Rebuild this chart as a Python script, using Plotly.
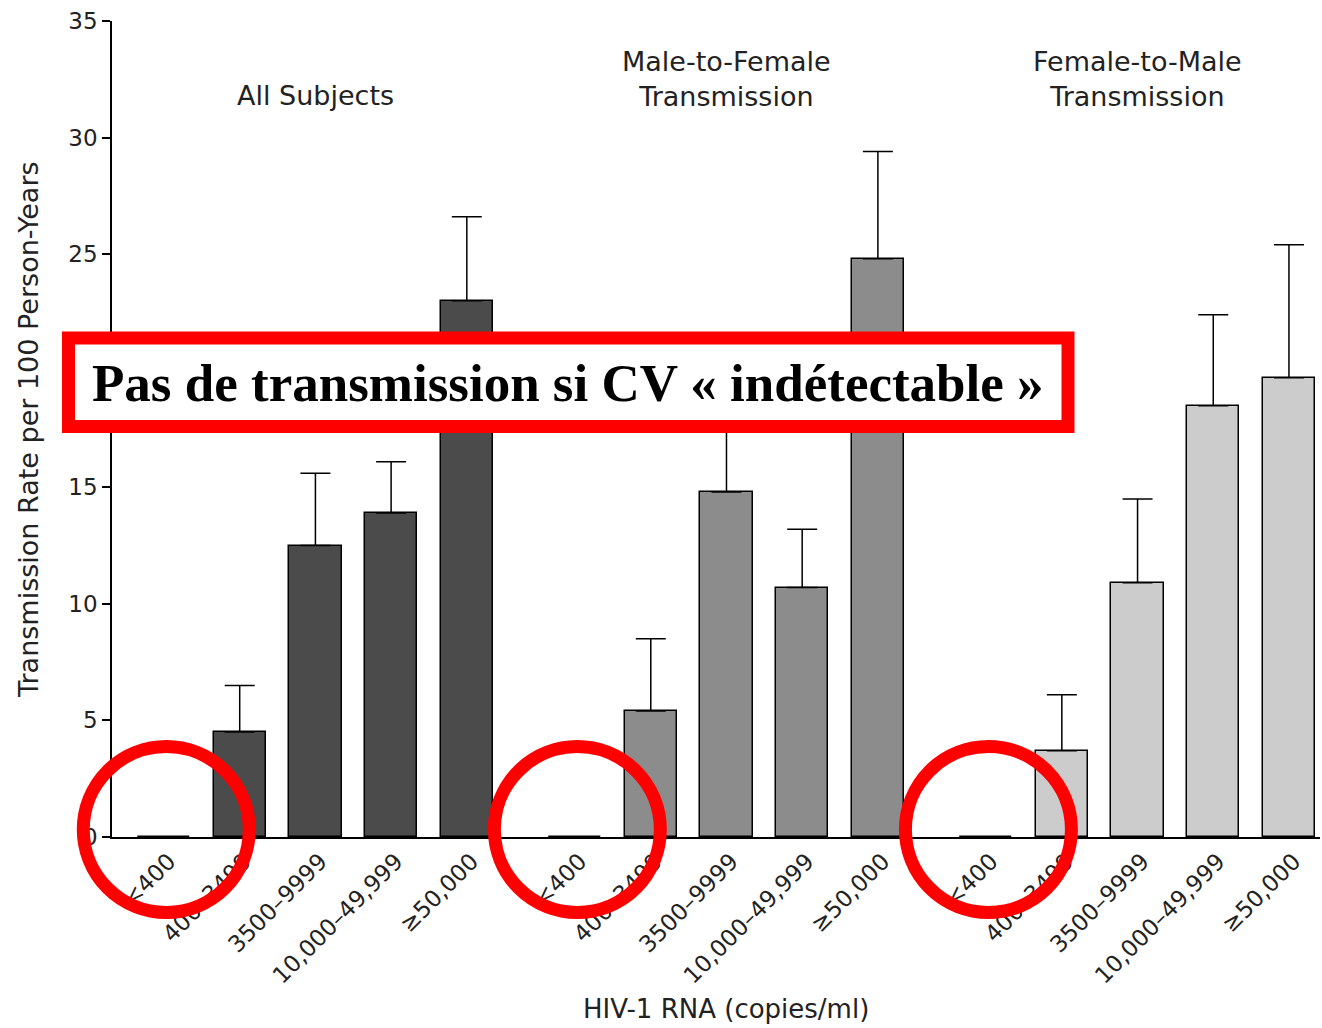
import plotly.graph_objects as go

categories = ["<400", "400–3499", "3500–9999", "10,000–49,999", "≥50,000"]
groups = ["All Subjects", "Male-to-Female<br>Transmission", "Female-to-Male<br>Transmission"]
rate_all = [0, 4.5, 12.5, 13.9, 23.0]
err_all = [0, 2.0, 3.1, 2.2, 3.6]
rate_mf = [0, 5.4, 14.8, 10.7, 24.8]
err_mf = [0, 3.1, 4.5, 2.5, 4.6]
rate_fm = [0, 3.7, 10.9, 18.5, 19.7]
err_fm = [0, 2.4, 3.6, 3.9, 5.7]
colors = ["#4b4b4b", "#8c8c8c", "#cccccc"]
banner = "Pas de transmission si CV « indétectable »"

group_step = 5.43
xmin, xmax = -0.687, 15.27
series = [(rate_all, err_all), (rate_mf, err_mf), (rate_fm, err_fm)]


def to_paper(xd):
    return (xd - xmin) / (xmax - xmin)


fig = go.Figure()
tickvals, ticktext = [], []
for g, (vals, errs) in enumerate(series):
    xs = [g * group_step + i for i in range(len(categories))]
    tickvals += xs
    ticktext += categories
    fig.add_trace(go.Bar(
        x=xs, y=vals, width=0.69,
        marker=dict(color=colors[g], line=dict(color="black", width=1.5)),
        error_y=dict(type="data", symmetric=False, array=errs,
                     arrayminus=[0] * len(errs), color="black",
                     thickness=1.5, width=15),
        showlegend=False,
    ))
    fig.add_annotation(x=g * group_step + 2, y=31.8 if g == 0 else 32.5,
                       xref="x", yref="y", text=groups[g], showarrow=False,
                       font=dict(family="DejaVu Sans", size=27, color="#222"))
    # red circle around the "<400" bar
    cx = to_paper(g * group_step + 0.03)
    cy = (837 - 829.5) / 816
    rx, ry = 83 / 1208, 83 / 816
    fig.add_shape(type="circle", xref="paper", yref="paper",
                  x0=cx - rx, x1=cx + rx, y0=cy - ry, y1=cy + ry,
                  line=dict(color="#ff0000", width=13), layer="above")

fig.add_shape(type="rect", xref="paper", yref="paper",
              x0=(68.5 - 112) / 1208, x1=(1068 - 112) / 1208,
              y0=(837 - 426.5) / 816, y1=(837 - 338) / 816,
              fillcolor="white", line=dict(color="#ff0000", width=13), layer="above")
fig.add_annotation(x=(568 - 112) / 1208, y=(837 - 383) / 816, xref="paper", yref="paper",
                   text="<b>" + banner + "</b>", showarrow=False,
                   font=dict(family="Liberation Serif", size=53, color="black"))

fig.add_annotation(x=(726 - 112) / 1208, y=-(1009 - 837) / 816, xref="paper", yref="paper",
                   text="HIV-1 RNA (copies/ml)", showarrow=False, yanchor="middle",
                   font=dict(family="DejaVu Sans", size=26, color="#222"))
fig.add_annotation(x=(28 - 112) / 1208, y=(837 - 430) / 816, xref="paper", yref="paper",
                   text="Transmission Rate per 100 Person-Years", showarrow=False,
                   textangle=-90, xanchor="center", yanchor="middle",
                   font=dict(family="DejaVu Sans", size=27, color="#222"))

fig.update_layout(
    width=1322, height=1028,
    margin=dict(l=112, r=2, t=21, b=191),
    plot_bgcolor="white", paper_bgcolor="white",
    bargap=0,
    font=dict(family="DejaVu Sans", size=22, color="#222"),
)
fig.update_xaxes(range=[xmin, xmax], tickvals=tickvals, ticktext=ticktext,
                 tickangle=-45, showline=True, linecolor="black", linewidth=1.5,
                 showgrid=False, zeroline=False, ticks="", ticklabelshift=5,
                 tickfont=dict(family="DejaVu Sans", size=23, color="#222"))
fig.update_yaxes(range=[0, 35], tickvals=[0, 5, 10, 15, 20, 25, 30, 35],
                 showline=True, linecolor="black", linewidth=1.5,
                 showgrid=False, zeroline=False, ticks="outside", ticklen=8,
                 tickcolor="black", tickwidth=1.5,
                 tickfont=dict(family="DejaVu Sans", size=23, color="#222"))

fig.write_html("out.html", config={"displayModeBar": False},
               post_script="document.body.style.margin='0';")
